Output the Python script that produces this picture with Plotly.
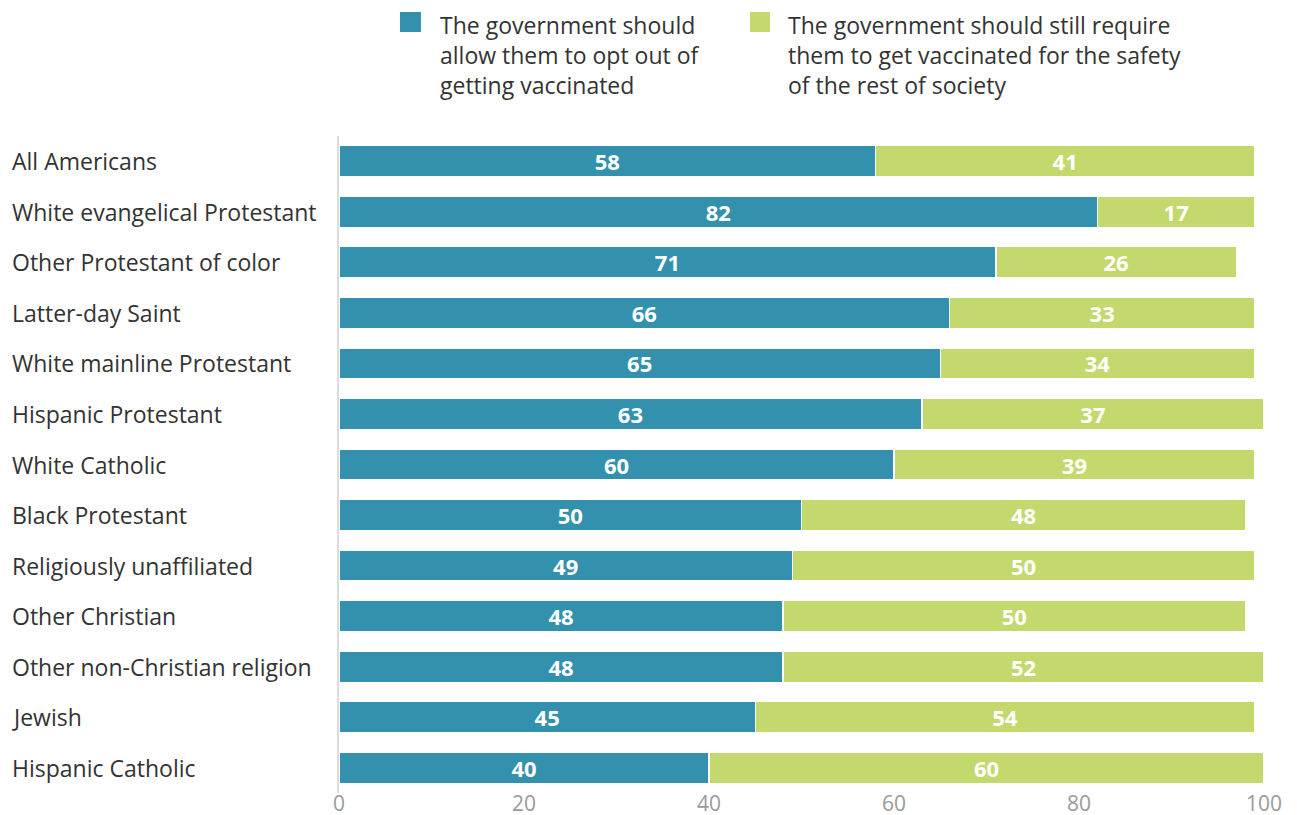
import plotly.graph_objects as go

categories = [
    "All Americans",
    "White evangelical Protestant",
    "Other Protestant of color",
    "Latter-day Saint",
    "White mainline Protestant",
    "Hispanic Protestant",
    "White Catholic",
    "Black Protestant",
    "Religiously unaffiliated",
    "Other Christian",
    "Other non-Christian religion",
    "Jewish",
    "Hispanic Catholic",
]
opt_out = [58, 82, 71, 66, 65, 63, 60, 50, 49, 48, 48, 45, 40]
require = [41, 17, 26, 33, 34, 37, 39, 48, 50, 50, 52, 54, 60]

series_names = [
    ["The government should", "allow them to opt out of", "getting vaccinated"],
    ["The government should still require", "them to get vaccinated for the safety", "of the rest of society"],
]
x_ticks = [0, 20, 40, 60, 80, 100]

TEAL = "#3491AE"
GREEN = "#C3D96D"
FONT = "Open Sans"
TXT = "#333333"

fig = go.Figure()
for vals, color, name in [(opt_out, TEAL, series_names[0]), (require, GREEN, series_names[1])]:
    fig.add_trace(go.Bar(
        y=categories, x=vals, orientation="h", name=" ".join(name),
        marker=dict(color=color, line=dict(color="white", width=1.5)),
        text=vals, textposition="inside", insidetextanchor="middle", textangle=0,
        constraintext="none",
        textfont=dict(family=FONT, size=22, color="white", weight="bold"),
        showlegend=False,
    ))

fig.update_layout(
    barmode="stack",
    bargap=0.38,
    width=1297, height=815,
    margin=dict(l=331, r=41, t=128, b=30),
    paper_bgcolor="white", plot_bgcolor="white",
    font=dict(family=FONT, color=TXT, size=20),
)
fig.update_xaxes(
    range=[0, 100], tickvals=x_ticks, showgrid=False, zeroline=False,
    showline=False, ticks="", tickfont=dict(size=21, color="#9a9a9a", family=FONT),
    fixedrange=True, automargin=False, ticklabelstandoff=-4,
)
fig.update_yaxes(
    autorange="reversed", showticklabels=False, showgrid=False, zeroline=False,
    showline=True, linecolor="#dcdcdc", linewidth=2, ticks="", automargin=False,
)

# left-aligned category labels
for c in categories:
    fig.add_annotation(
        x=-0.3556, xref="paper", y=c, yref="y", text=c, showarrow=False,
        xanchor="left", yanchor="middle", font=dict(size=23, color=TXT, family=FONT),
    )

# manual legend
swatches = [(0.0659, 0.0886, TEAL, 0.1081), (0.4443, 0.4659, GREEN, 0.4843)]
for (x0, x1, col, tx), lines in zip(swatches, series_names):
    fig.add_shape(type="rect", xref="paper", yref="paper", x0=x0, x1=x1,
                  y0=1.1583, y1=1.1887, fillcolor=col, line=dict(width=0))
    fig.add_annotation(x=tx, y=1.1945, xref="paper", yref="paper", text="<br>".join(lines),
                       showarrow=False, xanchor="left", yanchor="top", align="left",
                       borderpad=0,
                       font=dict(size=23, color=TXT, family=FONT))

fig.write_html("out.html")
